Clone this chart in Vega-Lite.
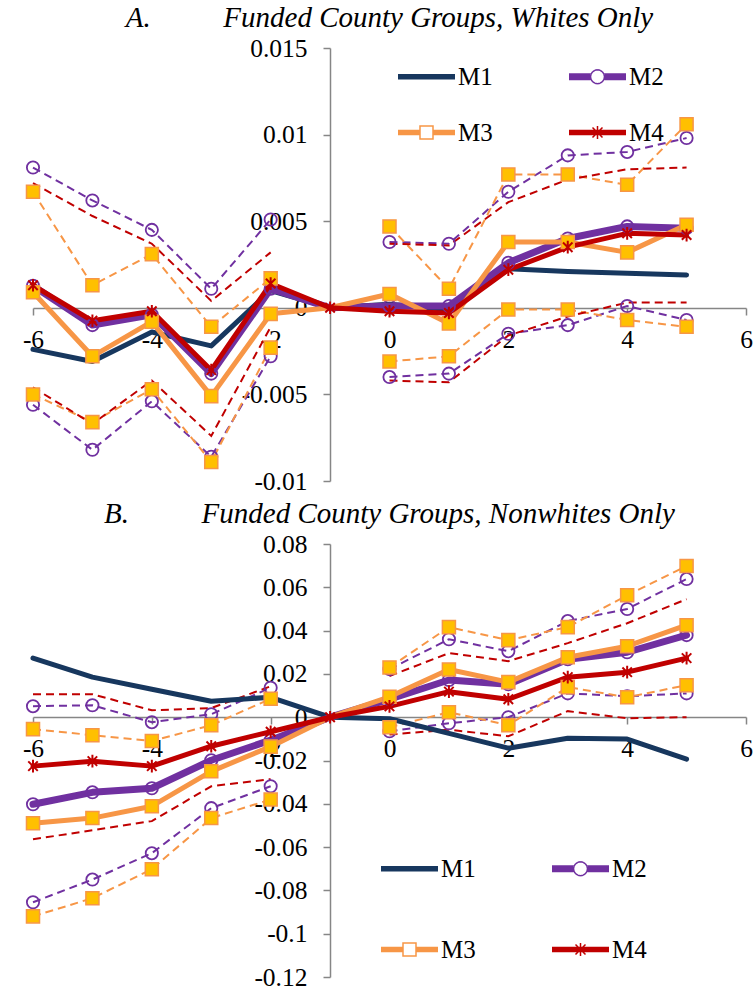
{
  "$schema": "https://vega.github.io/schema/vega-lite/v6.json",
  "background": "white",
  "padding": {"left": 22, "top": 4, "right": 4, "bottom": 4},
  "config": {"view": {"stroke": null}},
  "datasets": {
    "A": [
      {"x":-6,"s":"M1","p":"pre","est":-0.0024},{"x":-5,"s":"M1","p":"pre","est":-0.0031},{"x":-4,"s":"M1","p":"pre","est":-0.0014},{"x":-3,"s":"M1","p":"pre","est":-0.0022},{"x":-2,"s":"M1","p":"pre","est":0.001},{"x":-1,"s":"M1","p":"pre","est":0},{"x":0,"s":"M1","p":"post","est":0.0002},{"x":1,"s":"M1","p":"post","est":-0.0001},{"x":2,"s":"M1","p":"post","est":0.00225},{"x":3,"s":"M1","p":"post","est":0.0021},{"x":4,"s":"M1","p":"post","est":0.002},{"x":5,"s":"M1","p":"post","est":0.0019},
      {"x":-6,"s":"M2","p":"pre","est":0.00127,"lo":-0.0056,"hi":0.0081},{"x":-5,"s":"M2","p":"pre","est":-0.001,"lo":-0.0082,"hi":0.0062},{"x":-4,"s":"M2","p":"pre","est":-0.0004,"lo":-0.0054,"hi":0.0045},{"x":-3,"s":"M2","p":"pre","est":-0.0038,"lo":-0.0086,"hi":0.0011},{"x":-2,"s":"M2","p":"pre","est":0.0011,"lo":-0.0028,"hi":0.0051},{"x":-1,"s":"M2","p":"pre","est":0},{"x":0,"s":"M2","p":"post","est":0.0001,"lo":-0.004,"hi":0.0038},{"x":1,"s":"M2","p":"post","est":0.0001,"lo":-0.0038,"hi":0.0037},{"x":2,"s":"M2","p":"post","est":0.0026,"lo":-0.0015,"hi":0.0067},{"x":3,"s":"M2","p":"post","est":0.004,"lo":-0.001,"hi":0.0088},{"x":4,"s":"M2","p":"post","est":0.0047,"lo":0.0001,"hi":0.009},{"x":5,"s":"M2","p":"post","est":0.0046,"lo":-0.0007,"hi":0.0098},
      {"x":-6,"s":"M3","p":"pre","est":0.0009,"lo":-0.005,"hi":0.0067},{"x":-5,"s":"M3","p":"pre","est":-0.0028,"lo":-0.0066,"hi":0.0013},{"x":-4,"s":"M3","p":"pre","est":-0.0008,"lo":-0.0047,"hi":0.0031},{"x":-3,"s":"M3","p":"pre","est":-0.0051,"lo":-0.0089,"hi":-0.0011},{"x":-2,"s":"M3","p":"pre","est":-0.00035,"lo":-0.0023,"hi":0.0017},{"x":-1,"s":"M3","p":"pre","est":0},{"x":0,"s":"M3","p":"post","est":0.0008,"lo":-0.0031,"hi":0.0047},{"x":1,"s":"M3","p":"post","est":-0.0009,"lo":-0.0028,"hi":0.0011},{"x":2,"s":"M3","p":"post","est":0.0038,"lo":-0.0001,"hi":0.0077},{"x":3,"s":"M3","p":"post","est":0.0038,"lo":-0.0001,"hi":0.0077},{"x":4,"s":"M3","p":"post","est":0.0032,"lo":-0.0007,"hi":0.0071},{"x":5,"s":"M3","p":"post","est":0.0048,"lo":-0.0011,"hi":0.0106},
      {"x":-6,"s":"M4","p":"pre","est":0.0013,"lo":-0.0046,"hi":0.0072},{"x":-5,"s":"M4","p":"pre","est":-0.00075,"lo":-0.0067,"hi":0.0053},{"x":-4,"s":"M4","p":"pre","est":-0.0002,"lo":-0.0042,"hi":0.0037},{"x":-3,"s":"M4","p":"pre","est":-0.0036,"lo":-0.0074,"hi":0.0004},{"x":-2,"s":"M4","p":"pre","est":0.0014,"lo":-0.0011,"hi":0.0032},{"x":-1,"s":"M4","p":"pre","est":0},{"x":0,"s":"M4","p":"post","est":-0.0002,"lo":-0.0042,"hi":0.0037},{"x":1,"s":"M4","p":"post","est":-0.0003,"lo":-0.0043,"hi":0.0036},{"x":2,"s":"M4","p":"post","est":0.0022,"lo":-0.0016,"hi":0.0061},{"x":3,"s":"M4","p":"post","est":0.0035,"lo":-0.0005,"hi":0.0074},{"x":4,"s":"M4","p":"post","est":0.0043,"lo":0.0003,"hi":0.008},{"x":5,"s":"M4","p":"post","est":0.0042,"lo":0.0003,"hi":0.0081}
    ],
    "B": [
      {"x":-6,"s":"M1","p":"pre","est":0.0273},{"x":-5,"s":"M1","p":"pre","est":0.0185},{"x":-4,"s":"M1","p":"pre","est":0.0129},{"x":-3,"s":"M1","p":"pre","est":0.0074},{"x":-2,"s":"M1","p":"pre","est":0.0092},{"x":-1,"s":"M1","p":"pre","est":0},{"x":0,"s":"M1","p":"post","est":-0.0007},{"x":1,"s":"M1","p":"post","est":-0.0075},{"x":2,"s":"M1","p":"post","est":-0.0143},{"x":3,"s":"M1","p":"post","est":-0.0097},{"x":4,"s":"M1","p":"post","est":-0.0101},{"x":5,"s":"M1","p":"post","est":-0.0194},
      {"x":-6,"s":"M2","p":"pre","est":-0.0402,"lo":-0.0855,"hi":0.0051},{"x":-5,"s":"M2","p":"pre","est":-0.0347,"lo":-0.075,"hi":0.0055},{"x":-4,"s":"M2","p":"pre","est":-0.0328,"lo":-0.0628,"hi":-0.0023},{"x":-3,"s":"M2","p":"pre","est":-0.0199,"lo":-0.042,"hi":0.0014},{"x":-2,"s":"M2","p":"pre","est":-0.0106,"lo":-0.0319,"hi":0.0136},{"x":-1,"s":"M2","p":"pre","est":0},{"x":0,"s":"M2","p":"post","est":0.0083,"lo":-0.0065,"hi":0.0222},{"x":1,"s":"M2","p":"post","est":0.0172,"lo":-0.0028,"hi":0.036},{"x":2,"s":"M2","p":"post","est":0.0152,"lo":0.0,"hi":0.0305},{"x":3,"s":"M2","p":"post","est":0.0268,"lo":0.011,"hi":0.0444},{"x":4,"s":"M2","p":"post","est":0.03,"lo":0.0097,"hi":0.05},{"x":5,"s":"M2","p":"post","est":0.0379,"lo":0.011,"hi":0.0638},
      {"x":-6,"s":"M3","p":"pre","est":-0.049,"lo":-0.092,"hi":-0.0055},{"x":-5,"s":"M3","p":"pre","est":-0.0466,"lo":-0.0836,"hi":-0.0083},{"x":-4,"s":"M3","p":"pre","est":-0.0411,"lo":-0.0702,"hi":-0.011},{"x":-3,"s":"M3","p":"pre","est":-0.025,"lo":-0.0466,"hi":-0.0037},{"x":-2,"s":"M3","p":"pre","est":-0.0136,"lo":-0.038,"hi":0.0085},{"x":-1,"s":"M3","p":"pre","est":0},{"x":0,"s":"M3","p":"post","est":0.0094,"lo":-0.0046,"hi":0.023},{"x":1,"s":"M3","p":"post","est":0.022,"lo":0.0023,"hi":0.0416},{"x":2,"s":"M3","p":"post","est":0.0162,"lo":-0.0037,"hi":0.0356},{"x":3,"s":"M3","p":"post","est":0.0277,"lo":0.0139,"hi":0.0416},{"x":4,"s":"M3","p":"post","est":0.0328,"lo":0.0092,"hi":0.0563},{"x":5,"s":"M3","p":"post","est":0.0425,"lo":0.0148,"hi":0.0698},
      {"x":-6,"s":"M4","p":"pre","est":-0.0226,"lo":-0.0564,"hi":0.0106},{"x":-5,"s":"M4","p":"pre","est":-0.0203,"lo":-0.0522,"hi":0.0106},{"x":-4,"s":"M4","p":"pre","est":-0.0226,"lo":-0.048,"hi":0.0032},{"x":-3,"s":"M4","p":"pre","est":-0.0134,"lo":-0.0319,"hi":0.0042},{"x":-2,"s":"M4","p":"pre","est":-0.0067,"lo":-0.0286,"hi":0.0143},{"x":-1,"s":"M4","p":"pre","est":0},{"x":0,"s":"M4","p":"post","est":0.005,"lo":-0.008,"hi":0.019},{"x":1,"s":"M4","p":"post","est":0.0118,"lo":-0.0058,"hi":0.0296},{"x":2,"s":"M4","p":"post","est":0.0083,"lo":-0.0088,"hi":0.0259},{"x":3,"s":"M4","p":"post","est":0.0185,"lo":0.0028,"hi":0.0342},{"x":4,"s":"M4","p":"post","est":0.0208,"lo":-0.0005,"hi":0.0434},{"x":5,"s":"M4","p":"post","est":0.0273,"lo":0.0,"hi":0.0545}
    ],
    "legend": [{"s":"M1"},{"s":"M2"},{"s":"M3"},{"s":"M4"}]
  },
  "spacing": 5,
  "resolve": {"scale": {"stroke": "independent", "shape": "independent", "fill": "independent", "x": "independent", "y": "independent"}, "legend": {"stroke": "independent", "shape": "independent", "fill": "independent"}},
  "vconcat": [
    {
      "width": 713, "height": 433,
      "title": {"text": "A.\u00a0\u00a0\u00a0\u00a0\u00a0\u00a0\u00a0\u00a0\u00a0\u00a0Funded County Groups, Whites Only", "font": "Liberation Serif", "fontSize": 29, "fontStyle": "italic", "fontWeight": "normal", "color": "black", "anchor": "middle", "frame": "group", "offset": 3},
      "layer": [
        {
          "data": {"name": "A"},
          "transform": [{"fold": ["est", "lo", "hi"], "as": ["b", "v"]}, {"filter": "datum.b !== 'est' && isValid(datum.v)"}],
          "mark": {"type": "line", "strokeWidth": 2, "strokeDash": [8, 5]},
          "encoding": {
            "x": {"field": "x", "type": "quantitative", "scale": {"domain": [-6, 6], "nice": false, "zero": false},
              "axis": {"values": [-6, -4, -2, 0, 2, 4, 6], "labelExpr": "'' + datum.value", "offset": -173, "title": null, "grid": false, "labelFont": "Liberation Serif", "labelFontSize": 25.5, "labelColor": "black", "labelPadding": 12, "labelFlush": false, "labelOverlap": false, "labelBound": false, "tickSize": 7, "tickColor": "#868686", "tickWidth": 1.5, "domainColor": "#868686", "domainWidth": 1.5}},
            "y": {"field": "v", "type": "quantitative", "scale": {"domain": [-0.01, 0.015], "nice": false, "zero": false},
              "axis": {"values": [-0.01, -0.005, 0, 0.005, 0.01, 0.015], "labelExpr": "'' + datum.value", "offset": -297, "title": null, "grid": false, "labelFont": "Liberation Serif", "labelFontSize": 25.5, "labelColor": "black", "labelPadding": 16, "labelOverlap": false, "tickSize": 7, "tickColor": "#868686", "tickWidth": 1.5, "domainColor": "#868686", "domainWidth": 1.5}},
            "color": {"field": "s", "type": "nominal", "scale": {"domain": ["M1", "M2", "M3", "M4"], "range": ["#17375E", "#7030A0", "#F79646", "#C00000"]}, "legend": null},
            "detail": [{"field": "p"}, {"field": "b"}]
          }
        },
        {
          "data": {"name": "A"},
          "transform": [{"fold": ["est", "lo", "hi"], "as": ["b", "v"]}, {"filter": "datum.b === 'est'"}],
          "mark": {"type": "line", "strokeCap": "round", "strokeJoin": "round"},
          "encoding": {
            "x": {"field": "x", "type": "quantitative"},
            "y": {"field": "v", "type": "quantitative"},
            "color": {"field": "s", "type": "nominal", "legend": null},
            "strokeWidth": {"condition": {"test": "datum.s === 'M2'", "value": 7}, "value": 5}
          }
        },
        {
          "data": {"name": "A"},
          "transform": [{"fold": ["est", "lo", "hi"], "as": ["b", "v"]}, {"filter": "datum.s === 'M2' && isValid(datum.v) && datum.x !== -1"}],
          "mark": {"type": "point", "shape": "circle", "size": 150, "filled": false, "stroke": "#7030A0", "strokeWidth": 1.8, "opacity": 1},
          "encoding": {"x": {"field": "x", "type": "quantitative"}, "y": {"field": "v", "type": "quantitative"}}
        },
        {
          "data": {"name": "A"},
          "transform": [{"fold": ["est", "lo", "hi"], "as": ["b", "v"]}, {"filter": "datum.s === 'M3' && isValid(datum.v) && datum.x !== -1"}],
          "mark": {"type": "point", "shape": "square", "size": 170, "filled": true, "fill": "#FFC000", "stroke": "#F79646", "strokeWidth": 1.5, "opacity": 1},
          "encoding": {"x": {"field": "x", "type": "quantitative"}, "y": {"field": "v", "type": "quantitative"}}
        },
        {
          "data": {"name": "A"},
          "transform": [{"fold": ["est", "lo", "hi"], "as": ["b", "v"]}, {"filter": "datum.s === 'M4' && datum.b === 'est'"}],
          "mark": {"type": "point", "shape": "M0,-1V1M-0.75,-0.75L0.75,0.75M-0.75,0.75L0.75,-0.75", "size": 160, "filled": false, "stroke": "#C00000", "strokeWidth": 2, "opacity": 1},
          "encoding": {"x": {"field": "x", "type": "quantitative"}, "y": {"field": "v", "type": "quantitative"}}
        },
        {
          "data": {"name": "legend"},
          "mark": {"type": "point", "opacity": 0, "filled": true},
          "encoding": {
            "stroke": {"field": "s", "type": "nominal", "scale": {"range": ["#17375E", "#7030A0", "#F79646", "#C00000"]},
              "legend": {"orient": "none", "legendX": 364, "legendY": -1, "direction": "horizontal", "columns": 2, "title": null, "padding": 0, "symbolSize": 3249, "symbolStrokeWidth": 1.5, "symbolFillColor": "#FFC000", "symbolOpacity": 1, "labelFont": "Liberation Serif", "labelFontSize": 25, "labelColor": "black", "labelOffset": 2, "columnPadding": 73, "rowPadding": 13}},
            "shape": {"field": "s", "type": "nominal", "scale": {"range": [
              "M-1,-0.0702H1M-1,-0.0351H1M-1,0H1M-1,0.0351H1M-1,0.0702H1",
              "M-1,-0.0968H-0.2456M0.2456,-0.0968H1M-1,-0.0646H-0.2456M0.2456,-0.0646H1M-1,-0.0323H-0.2456M0.2456,-0.0323H1M-1,0H-0.2456M0.2456,0H1M-1,0.0323H-0.2456M0.2456,0.0323H1M-1,0.0646H-0.2456M0.2456,0.0646H1M-1,0.0968H-0.2456M0.2456,0.0968H1M0.2456,0L0.2269,0.094M0.2269,0.094L0.1737,0.1737M0.1737,0.1737L0.094,0.2269M0.094,0.2269L0,0.2456M0,0.2456L-0.094,0.2269M-0.094,0.2269L-0.1737,0.1737M-0.1737,0.1737L-0.2269,0.094M-0.2269,0.094L-0.2456,0M-0.2456,0L-0.2269,-0.094M-0.2269,-0.094L-0.1737,-0.1737M-0.1737,-0.1737L-0.094,-0.2269M-0.094,-0.2269L0,-0.2456M0,-0.2456L0.094,-0.2269M0.094,-0.2269L0.1737,-0.1737M0.1737,-0.1737L0.2269,-0.094M0.2269,-0.094L0.2456,0",
              "M-1,-0.0702H-0.2281M0.2281,-0.0702H1M-1,-0.0351H-0.2281M0.2281,-0.0351H1M-1,0H-0.2281M0.2281,0H1M-1,0.0351H-0.2281M0.2281,0.0351H1M-1,0.0702H-0.2281M0.2281,0.0702H1M-0.2281,-0.2281H0.2281V0.2281H-0.2281Z",
              "M-1,-0.0702H1M-1,-0.0351H1M-1,0H1M-1,0.0351H1M-1,0.0702H1M0,-0.2281V0.2281M-0.1754,-0.1754L0.1754,0.1754M-0.1754,0.1754L0.1754,-0.1754"]}},
            "fill": {"field": "s", "type": "nominal", "scale": {"range": ["transparent", "transparent", "#FFC000", "transparent"]}}
          }
        }
      ]
    },
    {
      "width": 713, "height": 433,
      "title": {"text": "B.\u00a0\u00a0\u00a0\u00a0\u00a0\u00a0\u00a0\u00a0\u00a0\u00a0Funded County Groups, Nonwhites Only", "font": "Liberation Serif", "fontSize": 29, "fontStyle": "italic", "fontWeight": "normal", "color": "black", "anchor": "middle", "frame": "group", "offset": 3},
      "layer": [
        {
          "data": {"name": "B"},
          "transform": [{"fold": ["est", "lo", "hi"], "as": ["b", "v"]}, {"filter": "datum.b !== 'est' && isValid(datum.v)"}],
          "mark": {"type": "line", "strokeWidth": 2, "strokeDash": [8, 5]},
          "encoding": {
            "x": {"field": "x", "type": "quantitative", "scale": {"domain": [-6, 6], "nice": false, "zero": false},
              "axis": {"values": [-6, -4, -2, 0, 2, 4, 6], "labelExpr": "'' + datum.value", "offset": -260, "title": null, "grid": false, "labelFont": "Liberation Serif", "labelFontSize": 25.5, "labelColor": "black", "labelPadding": 12, "labelFlush": false, "labelOverlap": false, "labelBound": false, "tickSize": 7, "tickColor": "#868686", "tickWidth": 1.5, "domainColor": "#868686", "domainWidth": 1.5}},
            "y": {"field": "v", "type": "quantitative", "scale": {"domain": [-0.12, 0.08], "nice": false, "zero": false},
              "axis": {"values": [-0.12, -0.1, -0.08, -0.06, -0.04, -0.02, 0, 0.02, 0.04, 0.06, 0.08], "labelExpr": "'' + datum.value", "offset": -297, "title": null, "grid": false, "labelFont": "Liberation Serif", "labelFontSize": 25.5, "labelColor": "black", "labelPadding": 16, "labelOverlap": false, "tickSize": 7, "tickColor": "#868686", "tickWidth": 1.5, "domainColor": "#868686", "domainWidth": 1.5}},
            "color": {"field": "s", "type": "nominal", "scale": {"domain": ["M1", "M2", "M3", "M4"], "range": ["#17375E", "#7030A0", "#F79646", "#C00000"]}, "legend": null},
            "detail": [{"field": "p"}, {"field": "b"}]
          }
        },
        {
          "data": {"name": "B"},
          "transform": [{"fold": ["est", "lo", "hi"], "as": ["b", "v"]}, {"filter": "datum.b === 'est'"}],
          "mark": {"type": "line", "strokeCap": "round", "strokeJoin": "round"},
          "encoding": {
            "x": {"field": "x", "type": "quantitative"},
            "y": {"field": "v", "type": "quantitative"},
            "color": {"field": "s", "type": "nominal", "legend": null},
            "strokeWidth": {"condition": {"test": "datum.s === 'M2'", "value": 7}, "value": 5}
          }
        },
        {
          "data": {"name": "B"},
          "transform": [{"fold": ["est", "lo", "hi"], "as": ["b", "v"]}, {"filter": "datum.s === 'M2' && isValid(datum.v) && datum.x !== -1"}],
          "mark": {"type": "point", "shape": "circle", "size": 150, "filled": false, "stroke": "#7030A0", "strokeWidth": 1.8, "opacity": 1},
          "encoding": {"x": {"field": "x", "type": "quantitative"}, "y": {"field": "v", "type": "quantitative"}}
        },
        {
          "data": {"name": "B"},
          "transform": [{"fold": ["est", "lo", "hi"], "as": ["b", "v"]}, {"filter": "datum.s === 'M3' && isValid(datum.v) && datum.x !== -1"}],
          "mark": {"type": "point", "shape": "square", "size": 170, "filled": true, "fill": "#FFC000", "stroke": "#F79646", "strokeWidth": 1.5, "opacity": 1},
          "encoding": {"x": {"field": "x", "type": "quantitative"}, "y": {"field": "v", "type": "quantitative"}}
        },
        {
          "data": {"name": "B"},
          "transform": [{"fold": ["est", "lo", "hi"], "as": ["b", "v"]}, {"filter": "datum.s === 'M4' && datum.b === 'est'"}],
          "mark": {"type": "point", "shape": "M0,-1V1M-0.75,-0.75L0.75,0.75M-0.75,0.75L0.75,-0.75", "size": 160, "filled": false, "stroke": "#C00000", "strokeWidth": 2, "opacity": 1},
          "encoding": {"x": {"field": "x", "type": "quantitative"}, "y": {"field": "v", "type": "quantitative"}}
        },
        {
          "data": {"name": "legend"},
          "mark": {"type": "point", "opacity": 0, "filled": true},
          "encoding": {
            "stroke": {"field": "s", "type": "nominal", "scale": {"range": ["#17375E", "#7030A0", "#F79646", "#C00000"]},
              "legend": {"orient": "none", "legendX": 347, "legendY": 295, "direction": "horizontal", "columns": 2, "title": null, "padding": 0, "symbolSize": 3249, "symbolStrokeWidth": 1.5, "symbolFillColor": "#FFC000", "symbolOpacity": 1, "labelFont": "Liberation Serif", "labelFontSize": 25, "labelColor": "black", "labelOffset": 2, "columnPadding": 73, "rowPadding": 38}},
            "shape": {"field": "s", "type": "nominal", "scale": {"range": [
              "M-1,-0.0702H1M-1,-0.0351H1M-1,0H1M-1,0.0351H1M-1,0.0702H1",
              "M-1,-0.0968H-0.2456M0.2456,-0.0968H1M-1,-0.0646H-0.2456M0.2456,-0.0646H1M-1,-0.0323H-0.2456M0.2456,-0.0323H1M-1,0H-0.2456M0.2456,0H1M-1,0.0323H-0.2456M0.2456,0.0323H1M-1,0.0646H-0.2456M0.2456,0.0646H1M-1,0.0968H-0.2456M0.2456,0.0968H1M0.2456,0L0.2269,0.094M0.2269,0.094L0.1737,0.1737M0.1737,0.1737L0.094,0.2269M0.094,0.2269L0,0.2456M0,0.2456L-0.094,0.2269M-0.094,0.2269L-0.1737,0.1737M-0.1737,0.1737L-0.2269,0.094M-0.2269,0.094L-0.2456,0M-0.2456,0L-0.2269,-0.094M-0.2269,-0.094L-0.1737,-0.1737M-0.1737,-0.1737L-0.094,-0.2269M-0.094,-0.2269L0,-0.2456M0,-0.2456L0.094,-0.2269M0.094,-0.2269L0.1737,-0.1737M0.1737,-0.1737L0.2269,-0.094M0.2269,-0.094L0.2456,0",
              "M-1,-0.0702H-0.2281M0.2281,-0.0702H1M-1,-0.0351H-0.2281M0.2281,-0.0351H1M-1,0H-0.2281M0.2281,0H1M-1,0.0351H-0.2281M0.2281,0.0351H1M-1,0.0702H-0.2281M0.2281,0.0702H1M-0.2281,-0.2281H0.2281V0.2281H-0.2281Z",
              "M-1,-0.0702H1M-1,-0.0351H1M-1,0H1M-1,0.0351H1M-1,0.0702H1M0,-0.2281V0.2281M-0.1754,-0.1754L0.1754,0.1754M-0.1754,0.1754L0.1754,-0.1754"]}},
            "fill": {"field": "s", "type": "nominal", "scale": {"range": ["transparent", "transparent", "#FFC000", "transparent"]}}
          }
        }
      ]
    }
  ]
}
